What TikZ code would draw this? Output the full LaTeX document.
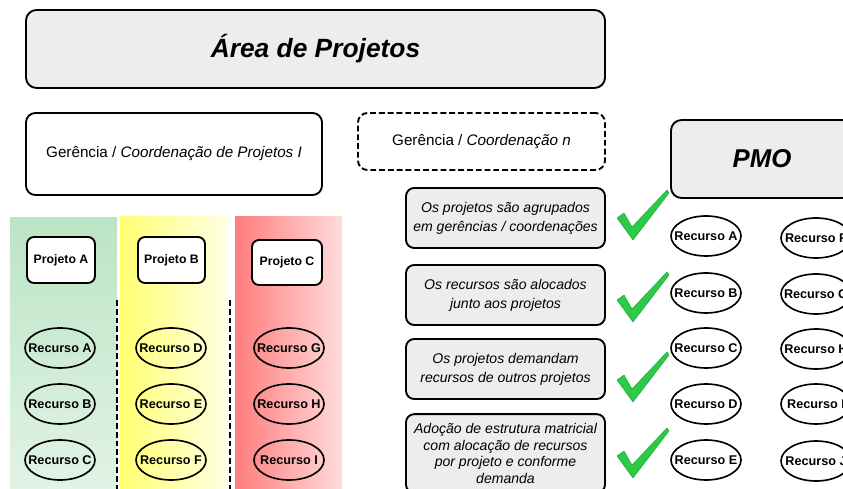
\documentclass[tikz,border=0pt]{standalone}
\usepackage{fontspec}
\setmainfont{Liberation Sans}
\usepackage{tikz}
\usetikzlibrary{shapes.geometric}
\usetikzlibrary{positioning}

\definecolor{boxgray}{HTML}{EDEDED}
\definecolor{checkgreen}{HTML}{2BCB48}
\definecolor{greentop}{HTML}{BBE4C4}
\definecolor{greenbot}{HTML}{E2F3E6}
\definecolor{yellowtop}{HTML}{FFFF70}
\definecolor{yellowbot}{HTML}{FFFFE4}
\definecolor{redleft}{HTML}{FF7C7C}
\definecolor{redright}{HTML}{FFDCDC}

\newcommand{\rec}[1]{\makebox[0pt]{Recurso #1}}

\tikzset{
    bigbox/.style={draw, line width=1.6pt, rounded corners=9pt, fill=boxgray},
    gerbox/.style={draw, line width=1.6pt, rounded corners=8pt, fill=white},
    projbox/.style={draw, line width=1.6pt, rounded corners=6pt, fill=white, font=\bfseries\fontsize{10.5}{12}\selectfont},
    stmtbox/.style={draw, line width=1.6pt, rounded corners=7pt, fill=boxgray, align=center, font=\itshape\fontsize{12}{16}\selectfont},
    recurso/.style={draw, line width=1.4pt, ellipse, inner sep=0pt, minimum width=2.1cm, minimum height=1.2cm, font=\bfseries\fontsize{10.8}{12}\selectfont},
    sep/.style={line width=1.8pt, dash pattern=on 5pt off 2.5pt}
}

\begin{document}
\begin{tikzpicture}[x=0.03cm,y=-0.03cm]
        \useasboundingbox (0,0) rectangle (843,489);

        % Columns
        \shade[top color=greentop, bottom color=greenbot] (10,218) rectangle (117,492);
        \shade[shading=axis, shading angle=135, left color=yellowtop, right color=yellowbot] (120,217) rectangle (227,492);
        \shade[shading=axis, shading angle=45, left color=redleft, right color=redright] (235,217) rectangle (342,492);

        % Header boxes
        \node[bigbox, minimum width=17.37cm, minimum height=2.34cm] (area) at (315.5,49)
            {\bfseries\itshape\fontsize{22.5}{26}\selectfont Área de Projetos};
        \node[gerbox, minimum width=8.88cm, minimum height=2.46cm] (ger1) at (174,154)
            {\fontsize{13}{15}\selectfont Gerência / \itshape Coordenação de Projetos I};
        \node[gerbox, dash pattern=on 5pt off 2.5pt, minimum width=7.41cm, minimum height=1.71cm] (gern) at (481.5,141.5)
            {\fontsize{13}{15}\selectfont Gerência / \itshape Coordenação n};
        \node[bigbox, minimum width=5.46cm, minimum height=2.34cm] (pmo) at (762,159)
            {\bfseries\itshape\fontsize{22}{26}\selectfont PMO};

        % Projects
        \node[projbox, minimum width=2.04cm, minimum height=1.38cm] (pA) at (61,260) {Projeto A};
        \node[projbox, minimum width=2.01cm, minimum height=1.38cm] (pB) at (171.5,260) {Projeto B};
        \node[projbox, minimum width=2.1cm, minimum height=1.35cm] (pC) at (287,262.5) {Projeto C};

        % Resources per project
        \node[recurso] (rA) at (60,348) {\rec{A}};
        \node[recurso] (rB) at (60,404) {\rec{B}};
        \node[recurso] (rC) at (60,460) {\rec{C}};
        \node[recurso] (rD) at (171,348) {\rec{D}};
        \node[recurso] (rE) at (171,404) {\rec{E}};
        \node[recurso] (rF) at (171,460) {\rec{F}};
        \node[recurso] (rG) at (289,348) {\rec{G}};
        \node[recurso] (rH) at (289,404) {\rec{H}};
        \node[recurso] (rI) at (289,460) {\rec{I}};

        % Separators
        \coordinate (s1a) at (117,300);
        \coordinate (s1b) at (117,492);
        \coordinate (s2a) at (230,300);
        \coordinate (s2b) at (230,492);
        \draw[sep] (s1a) -- (s1b);
        \draw[sep] (s2a) -- (s2b);

        % Statements
        \node[stmtbox, minimum width=5.97cm, minimum height=1.8cm] (st1) at (505.5,218)
            {Os projetos são agrupados\\em gerências / coordenações};
        \node[stmtbox, minimum width=5.97cm, minimum height=1.8cm] (st2) at (505.5,295)
            {Os recursos são alocados\\junto aos projetos};
        \node[stmtbox, minimum width=5.97cm, minimum height=1.8cm] (st3) at (505.5,369)
            {Os projetos demandam\\recursos de outros projetos};
        \node[stmtbox, minimum width=5.97cm, minimum height=2.36cm, font=\itshape\fontsize{12}{14.2}\selectfont] (st4) at (505.5,453.5)
            {Adoção de estrutura matricial\\com alocação de recursos\\por projeto e conforme\\demanda};

        % Checks
        \foreach \yy in {190,272,352,428} {
            \fill[checkgreen, draw=checkgreen!80!black, line join=round]
                (617,\yy+28) -- (624,\yy+23) -- (632,\yy+37) -- (667,\yy) -- (669,\yy+3) -- (633,\yy+50) -- cycle;
        }

        % PMO resources
        \node[recurso] (mA) at (706,236) {\rec{A}};
        \node[recurso] (mB) at (706,293) {\rec{B}};
        \node[recurso] (mC) at (706,348) {\rec{C}};
        \node[recurso] (mD) at (706,404) {\rec{D}};
        \node[recurso] (mE) at (706,460) {\rec{E}};
        \node[recurso] (mF) at (816,238) {\rec{F}};
        \node[recurso] (mG) at (816,294) {\rec{G}};
        \node[recurso] (mH) at (816,349) {\rec{H}};
        \node[recurso] (mI) at (816,404) {\rec{I}};
        \node[recurso] (mJ) at (816,461) {\rec{J}};
    \end{tikzpicture}
\end{document}
